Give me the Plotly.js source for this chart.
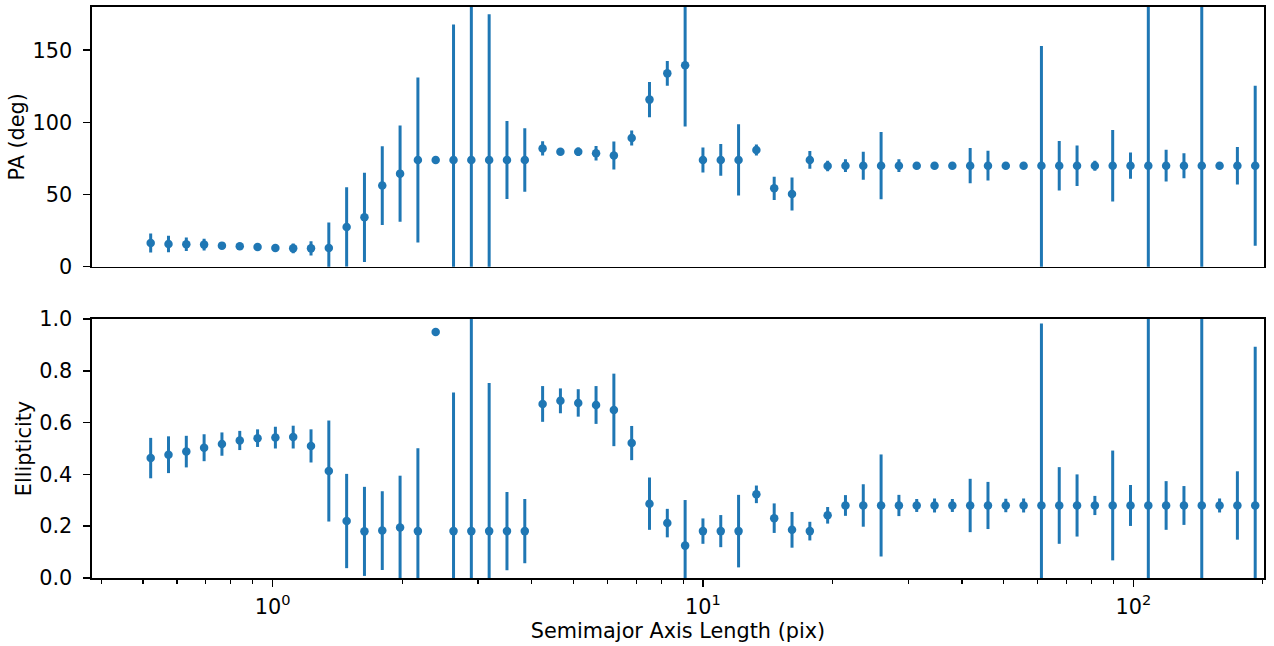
<!DOCTYPE html>
<html>
<head>
<meta charset="utf-8">
<script src="https://cdn.plot.ly/plotly-3.0.1.min.js"></script>
<style>html,body{margin:0;padding:0;background:#fff;}#chart{width:1274px;height:646px;}</style>
</head>
<body>
<div id="chart"></div>
<script>
// Semimajor axis lengths (pix)
var sma = [0.5210, 0.5731, 0.6304, 0.6934, 0.7628, 0.8391, 0.9230, 1.0153, 1.1168, 1.2285,
  1.3513, 1.4864, 1.6351, 1.7986, 1.9784, 2.1763, 2.3939, 2.6333, 2.8966, 3.1863,
  3.5049, 3.8554, 4.2410, 4.6651, 5.1316, 5.6447, 6.2092, 6.8301, 7.5131, 8.2645,
  9.0909, 10.0, 11.0, 12.1, 13.31, 14.641, 16.105, 17.716, 19.487, 21.436,
  23.579, 25.937, 28.531, 31.384, 34.523, 37.975, 41.772, 45.950, 50.545, 55.599,
  61.159, 67.275, 74.002, 81.403, 89.543, 98.497, 108.347, 119.182, 131.100, 144.210,
  158.631, 174.494, 191.943];

// Position angle (deg) and its error
var pa = [16.4, 15.7, 15.5, 15.3, 14.6, 14.1, 13.6, 12.9, 12.7, 12.7,
  12.9, 27.5, 34.2, 56.2, 64.5, 74.0, 74.0, 74.0, 74.0, 74.0,
  74.0, 74.0, 82.0, 79.7, 79.7, 78.6, 77.0, 89.2, 115.8, 134.0,
  139.6, 74.0, 74.0, 74.0, 80.9, 54.3, 50.4, 74.0, 69.8, 70.0,
  70.0, 70.0, 70.0, 70.0, 70.0, 70.0, 70.0, 70.0, 70.0, 70.0,
  70.0, 70.0, 70.0, 70.0, 70.0, 70.0, 70.0, 70.0, 70.0, 70.0,
  70.0, 70.0, 70.0];
var paErr = [6.6, 5.7, 4.7, 4.0, 1.5, 1.0, 1.0, 1.5, 3.3, 5.0,
  17.8, 27.5, 31.0, 27.3, 33.4, 57.2, 0, 93.8, 115, 101,
  27, 22, 4.9, 1.5, 3.0, 5.0, 9.7, 5.2, 12.2, 8.5,
  42.5, 8.7, 11, 24.7, 3.8, 8.0, 11.5, 6.2, 3.7, 4.4,
  9.7, 23.3, 4.4, 1.5, 1.0, 1.5, 12.2, 10.3, 1.5, 2.0,
  83, 17.2, 14, 3.5, 24.8, 9.1, 150, 11, 8.7, 130,
  1.5, 13, 55.4];

// Ellipticity and its error
var eps = [0.463, 0.476, 0.488, 0.503, 0.517, 0.531, 0.540, 0.542, 0.544, 0.510,
  0.413, 0.220, 0.180, 0.183, 0.195, 0.181, 0.950, 0.181, 0.181, 0.181,
  0.181, 0.181, 0.672, 0.684, 0.676, 0.668, 0.649, 0.521, 0.287, 0.212,
  0.125, 0.181, 0.181, 0.181, 0.323, 0.231, 0.186, 0.181, 0.242, 0.280,
  0.280, 0.280, 0.280, 0.280, 0.280, 0.280, 0.280, 0.280, 0.280, 0.280,
  0.280, 0.280, 0.280, 0.280, 0.280, 0.280, 0.280, 0.280, 0.280, 0.280,
  0.280, 0.280, 0.280];
var epsErr = [0.078, 0.071, 0.061, 0.052, 0.045, 0.037, 0.034, 0.042, 0.044, 0.064,
  0.195, 0.182, 0.172, 0.152, 0.2, 0.32, 0, 0.535, 0.9, 0.572,
  0.151, 0.124, 0.069, 0.048, 0.053, 0.073, 0.140, 0.066, 0.101, 0.055,
  0.176, 0.049, 0.062, 0.14, 0.034, 0.057, 0.069, 0.036, 0.032, 0.04,
  0.082, 0.197, 0.041, 0.025, 0.027, 0.025, 0.103, 0.091, 0.026, 0.027,
  0.703, 0.148, 0.12, 0.037, 0.212, 0.079, 0.8, 0.094, 0.075, 0.8,
  0.027, 0.132, 0.613];

var paTicks = [0, 50, 100, 150];
var epsTicks = [0.0, 0.2, 0.4, 0.6, 0.8, 1.0];
var xMajor = [1, 10, 100];
var xMajorText = ['10<sup>0</sup>', '10<sup>1</sup>', '10<sup>2</sup>'];
var xMinor = [0.4, 0.5, 0.6, 0.7, 0.8, 0.9, 2, 3, 4, 5, 6, 7, 8, 9,
  20, 30, 40, 50, 60, 70, 80, 90, 200];

var blue = '#1f77b4';
var fnt = {family: 'DejaVu Sans', size: 20.8, color: '#000'};

var traces = [
  {x: sma, y: pa, xaxis: 'x', yaxis: 'y', type: 'scatter', mode: 'markers',
   marker: {color: blue, size: 8.5},
   error_y: {type: 'data', array: paErr, visible: true, color: blue, thickness: 3, width: 0}},
  {x: sma, y: eps, xaxis: 'x2', yaxis: 'y2', type: 'scatter', mode: 'markers',
   marker: {color: blue, size: 8.5},
   error_y: {type: 'data', array: epsErr, visible: true, color: blue, thickness: 3, width: 0}}
];

var axisCommon = {showline: true, mirror: true, linecolor: '#000', linewidth: 1.6,
  showgrid: false, zeroline: false, tickfont: fnt, tickcolor: '#000'};
var xr = [-0.4195, 2.3036];

var layout = {
  width: 1274, height: 646,
  margin: {l: 92, r: 10, t: 7, b: 68},
  paper_bgcolor: '#fff', plot_bgcolor: '#fff',
  showlegend: false,
  font: fnt,
  xaxis: Object.assign({}, axisCommon, {type: 'log', range: xr, anchor: 'y', domain: [0, 1],
    ticks: '', showticklabels: false, matches: 'x2'}),
  yaxis: Object.assign({}, axisCommon, {domain: [0.5452, 1], range: [0, 180], anchor: 'x',
    tickmode: 'array', tickvals: paTicks, ticks: 'outside', ticklen: 7, tickwidth: 1.6,
    ticklabelstandoff: 7,
    title: {text: 'PA (deg)', font: fnt, standoff: 2}}),
  xaxis2: Object.assign({}, axisCommon, {type: 'log', range: xr, anchor: 'y2', domain: [0, 1],
    tickmode: 'array', tickvals: xMajor, ticktext: xMajorText, ticks: 'outside', ticklen: 7, tickwidth: 1.6,
    ticklabelstandoff: 2,
    minor: {tickmode: 'array', tickvals: xMinor, ticks: 'outside', ticklen: 4, tickwidth: 1.2, tickcolor: '#000', showgrid: false},
    title: {text: 'Semimajor Axis Length (pix)', font: fnt, standoff: 6}}),
  yaxis2: Object.assign({}, axisCommon, {domain: [0, 0.4536], range: [0, 1], anchor: 'x2',
    tickmode: 'array', tickvals: epsTicks, tickformat: '.1f', ticks: 'outside', ticklen: 7, tickwidth: 1.6,
    ticklabelstandoff: 7,
    title: {text: 'Ellipticity', font: fnt, standoff: 2}})
};

Plotly.newPlot('chart', traces, layout, {staticPlot: true, displayModeBar: false});
</script>
</body>
</html>
